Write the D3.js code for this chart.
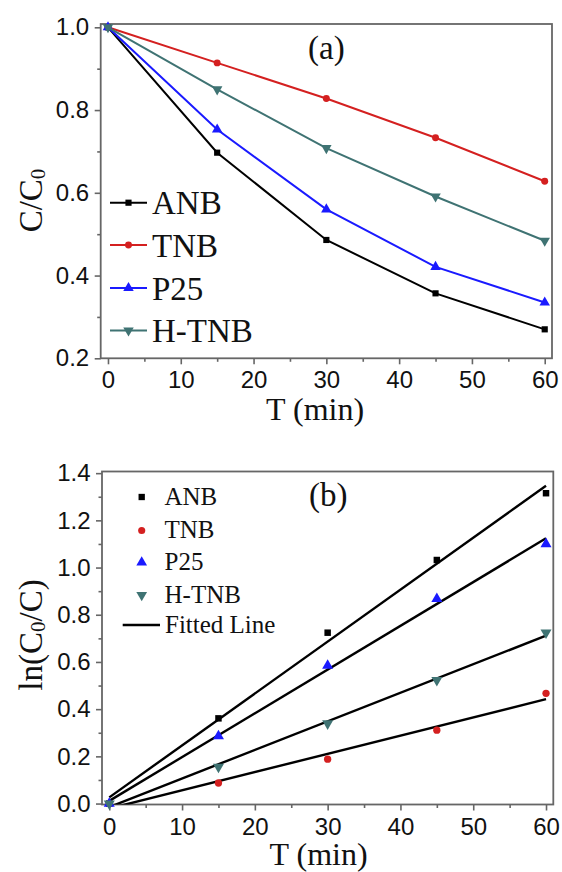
<!DOCTYPE html>
<html>
<head>
<meta charset="utf-8">
<script src="https://cdn.jsdelivr.net/npm/d3@7"></script>
<style>
  html, body { margin: 0; padding: 0; background: #fff; }
  svg { display: block; }
  .tick text { font-family: "Liberation Sans", Arial, sans-serif; font-size: 24px; fill: #111; }
  .serif { font-family: "Liberation Serif", "Times New Roman", serif; fill: #111; }
</style>
</head>
<body>
<svg id="chart" width="562" height="872"></svg>
<script>
// Sampling times (min)
const times = [0, 15, 30, 45, 60];

// Panel (a): normalised concentration C/C0
const ratioANB  = [1.0, 0.697, 0.486, 0.357, 0.270];
const ratioTNB  = [1.0, 0.914, 0.828, 0.733, 0.628];
const ratioP25  = [1.0, 0.753, 0.560, 0.421, 0.335];
const ratioHTNB = [1.0, 0.850, 0.708, 0.591, 0.484];

// Panel (b): ln(C0/C)
const lnANB  = [0, 0.361, 0.724, 1.032, 1.315];
const lnTNB  = [0, 0.087, 0.188, 0.311, 0.467];
const lnP25  = [0, 0.286, 0.585, 0.867, 1.100];
const lnHTNB = [0, 0.155, 0.339, 0.523, 0.724];

// Series names, colours and marker shapes
const seriesNames  = ["ANB", "TNB", "P25", "H-TNB"];
const seriesColors = ["#000000", "#d42020", "#1a1aff", "#3f7373"];
const seriesShapes = ["square", "circle", "up", "down"];

// Axis ticks
const xTicks = [0, 10, 20, 30, 40, 50, 60];
const xMinor = [5, 15, 25, 35, 45, 55];
const yTicksA = [0.2, 0.4, 0.6, 0.8, 1.0];
const yMinorA = [0.3, 0.5, 0.7, 0.9];
const yTicksB = [0.0, 0.2, 0.4, 0.6, 0.8, 1.0, 1.2, 1.4];
const yMinorB = [0.1, 0.3, 0.5, 0.7, 0.9, 1.1, 1.3];

const ratios = [ratioANB, ratioTNB, ratioP25, ratioHTNB];
const lns = [lnANB, lnTNB, lnP25, lnHTNB];

const svg = d3.select("#chart");
svg.append("rect").attr("width", 562).attr("height", 872).attr("fill", "#fff");

const frameColor = "#666";

function markerPath(shape, size) {
  if (shape === "square") return d3.symbol(d3.symbolSquare, size)();
  if (shape === "circle") return d3.symbol(d3.symbolCircle, size)();
  return d3.symbol(d3.symbolTriangle, size * 1.25)();
}
function markerTransform(shape, x, y) {
  return shape === "down" ? `translate(${x},${y}) rotate(180)` : `translate(${x},${y})`;
}

// Least-squares line through the points
function linearFit(xs, ys) {
  const mx = d3.mean(xs), my = d3.mean(ys);
  let sxy = 0, sxx = 0;
  xs.forEach((x, i) => { sxy += (x - mx) * (ys[i] - my); sxx += (x - mx) * (x - mx); });
  const slope = sxy / sxx;
  return { slope, intercept: my - slope * mx };
}

function drawAxes(g, x, y, yTicks, yMinor, box) {
  // frame
  g.append("rect")
    .attr("x", box.left).attr("y", box.top)
    .attr("width", box.right - box.left).attr("height", box.bottom - box.top)
    .attr("fill", "none").attr("stroke", frameColor).attr("stroke-width", 1.8);

  const xAxis = g.append("g").attr("transform", `translate(0,${box.bottom})`)
    .call(d3.axisBottom(x).tickValues(xTicks).tickFormat(d3.format("d")).tickSize(6).tickSizeOuter(0).tickPadding(7));
  const xMinorAxis = g.append("g").attr("transform", `translate(0,${box.bottom})`)
    .call(d3.axisBottom(x).tickValues(xMinor).tickFormat("").tickSize(3.5).tickSizeOuter(0));
  const yAxis = g.append("g").attr("transform", `translate(${box.left},0)`)
    .call(d3.axisLeft(y).tickValues(yTicks).tickFormat(d3.format(".1f")).tickSize(6).tickSizeOuter(0).tickPadding(5.5));
  const yMinorAxis = g.append("g").attr("transform", `translate(${box.left},0)`)
    .call(d3.axisLeft(y).tickValues(yMinor).tickFormat("").tickSize(3.5).tickSizeOuter(0));

  [xAxis, xMinorAxis, yAxis, yMinorAxis].forEach(a => {
    a.select(".domain").remove();
    a.selectAll(".tick line").attr("stroke", frameColor).attr("stroke-width", 1.6);
    a.selectAll(".tick text").attr("font-family", null).attr("font-size", null);
  });
}

// ---------- Panel (a) ----------
const boxA = { left: 100.7, right: 552, top: 24, bottom: 358.3 };
const xA = d3.scaleLinear().domain([-1, 61]).range([boxA.left, boxA.right]);
const yA = d3.scaleLinear().domain([0.2, 1.008]).range([boxA.bottom, boxA.top]);
const gA = svg.append("g");
drawAxes(gA, xA, yA, yTicksA, yMinorA, boxA);

const lineA = d3.line().x(d => xA(d[0])).y(d => yA(d[1]));
ratios.forEach((vals, s) => {
  const pts = times.map((t, i) => [t, vals[i]]);
  gA.append("path").attr("d", lineA(pts))
    .attr("fill", "none").attr("stroke", seriesColors[s]).attr("stroke-width", 2);
  gA.selectAll(null).data(pts).enter().append("path")
    .attr("d", markerPath(seriesShapes[s], 38))
    .attr("transform", d => markerTransform(seriesShapes[s], xA(d[0]), yA(d[1])))
    .attr("fill", seriesColors[s]);
});

gA.append("text").attr("class", "serif").attr("x", 308).attr("y", 59)
  .attr("font-size", 33).text("(a)");

// legend (a)
const legA = gA.append("g");
const legAy = [202.7, 245, 288, 330.5];
seriesNames.forEach((name, s) => {
  const cy = legAy[s];
  legA.append("line").attr("x1", 110).attr("x2", 147).attr("y1", cy).attr("y2", cy)
    .attr("stroke", seriesColors[s]).attr("stroke-width", 2);
  legA.append("path").attr("d", markerPath(seriesShapes[s], 38))
    .attr("transform", markerTransform(seriesShapes[s], 128.5, cy)).attr("fill", seriesColors[s]);
  legA.append("text").attr("class", "serif").attr("x", 152).attr("y", cy + 11.5)
    .attr("font-size", 33).text(name);
});

// axis titles (a)
gA.append("text").attr("class", "serif").attr("x", 266).attr("y", 420)
  .attr("font-size", 32).text("T (min)");
const yTitleA = gA.append("text").attr("class", "serif")
  .attr("transform", "translate(41.5,200.5) rotate(-90)")
  .attr("text-anchor", "middle").attr("font-size", 33);
yTitleA.append("tspan").text("C/C");
yTitleA.append("tspan").attr("font-size", 21).attr("dy", 3).text("0");

// ---------- Panel (b) ----------
const boxB = { left: 102, right: 553.3, top: 471.5, bottom: 804.5 };
const xB = d3.scaleLinear().domain([-1, 61]).range([boxB.left, boxB.right]);
const yB = d3.scaleLinear().domain([-0.004, 1.407]).range([boxB.bottom, boxB.top]);
const gB = svg.append("g");
drawAxes(gB, xB, yB, yTicksB, yMinorB, boxB);

svg.append("defs").append("clipPath").attr("id", "clipB")
  .append("rect").attr("x", boxB.left).attr("y", boxB.top)
  .attr("width", boxB.right - boxB.left).attr("height", boxB.bottom - boxB.top);

const fitG = gB.append("g").attr("clip-path", "url(#clipB)");
lns.forEach((vals, s) => {
  const fit = linearFit(times, vals);
  const x0 = times[0], x1 = times[times.length - 1];
  fitG.append("line")
    .attr("x1", xB(x0)).attr("y1", yB(fit.intercept + fit.slope * x0))
    .attr("x2", xB(x1)).attr("y2", yB(fit.intercept + fit.slope * x1))
    .attr("stroke", "#000").attr("stroke-width", 2.4);
});
lns.forEach((vals, s) => {
  const pts = times.map((t, i) => [t, vals[i]]);
  gB.selectAll(null).data(pts).enter().append("path")
    .attr("d", markerPath(seriesShapes[s], 42))
    .attr("transform", d => markerTransform(seriesShapes[s], xB(d[0]), yB(d[1])))
    .attr("fill", seriesColors[s]);
});

gB.append("text").attr("class", "serif").attr("x", 309).attr("y", 505.5)
  .attr("font-size", 33).text("(b)");

// legend (b)
const legB = gB.append("g");
const legBy = [497, 530.5, 562.5, 595];
seriesNames.forEach((name, s) => {
  const cy = legBy[s];
  legB.append("path").attr("d", markerPath(seriesShapes[s], 40))
    .attr("transform", markerTransform(seriesShapes[s], 141.7, cy)).attr("fill", seriesColors[s]);
  legB.append("text").attr("class", "serif").attr("x", 164.5).attr("y", cy + 7.5)
    .attr("font-size", 25).text(name);
});
legB.append("line").attr("x1", 122.7).attr("x2", 160).attr("y1", 625).attr("y2", 625)
  .attr("stroke", "#000").attr("stroke-width", 2.4);
legB.append("text").attr("class", "serif").attr("x", 165).attr("y", 632.7)
  .attr("font-size", 25).text("Fitted Line");

// axis titles (b)
gB.append("text").attr("class", "serif").attr("x", 269.5).attr("y", 865)
  .attr("font-size", 32).text("T (min)");
const yTitleB = gB.append("text").attr("class", "serif")
  .attr("transform", "translate(41.5,635) rotate(-90)")
  .attr("text-anchor", "middle").attr("font-size", 33);
yTitleB.append("tspan").text("ln(C");
yTitleB.append("tspan").attr("font-size", 21).attr("dy", 3).text("0");
yTitleB.append("tspan").attr("dy", -3).text("/C)");
</script>
</body>
</html>
